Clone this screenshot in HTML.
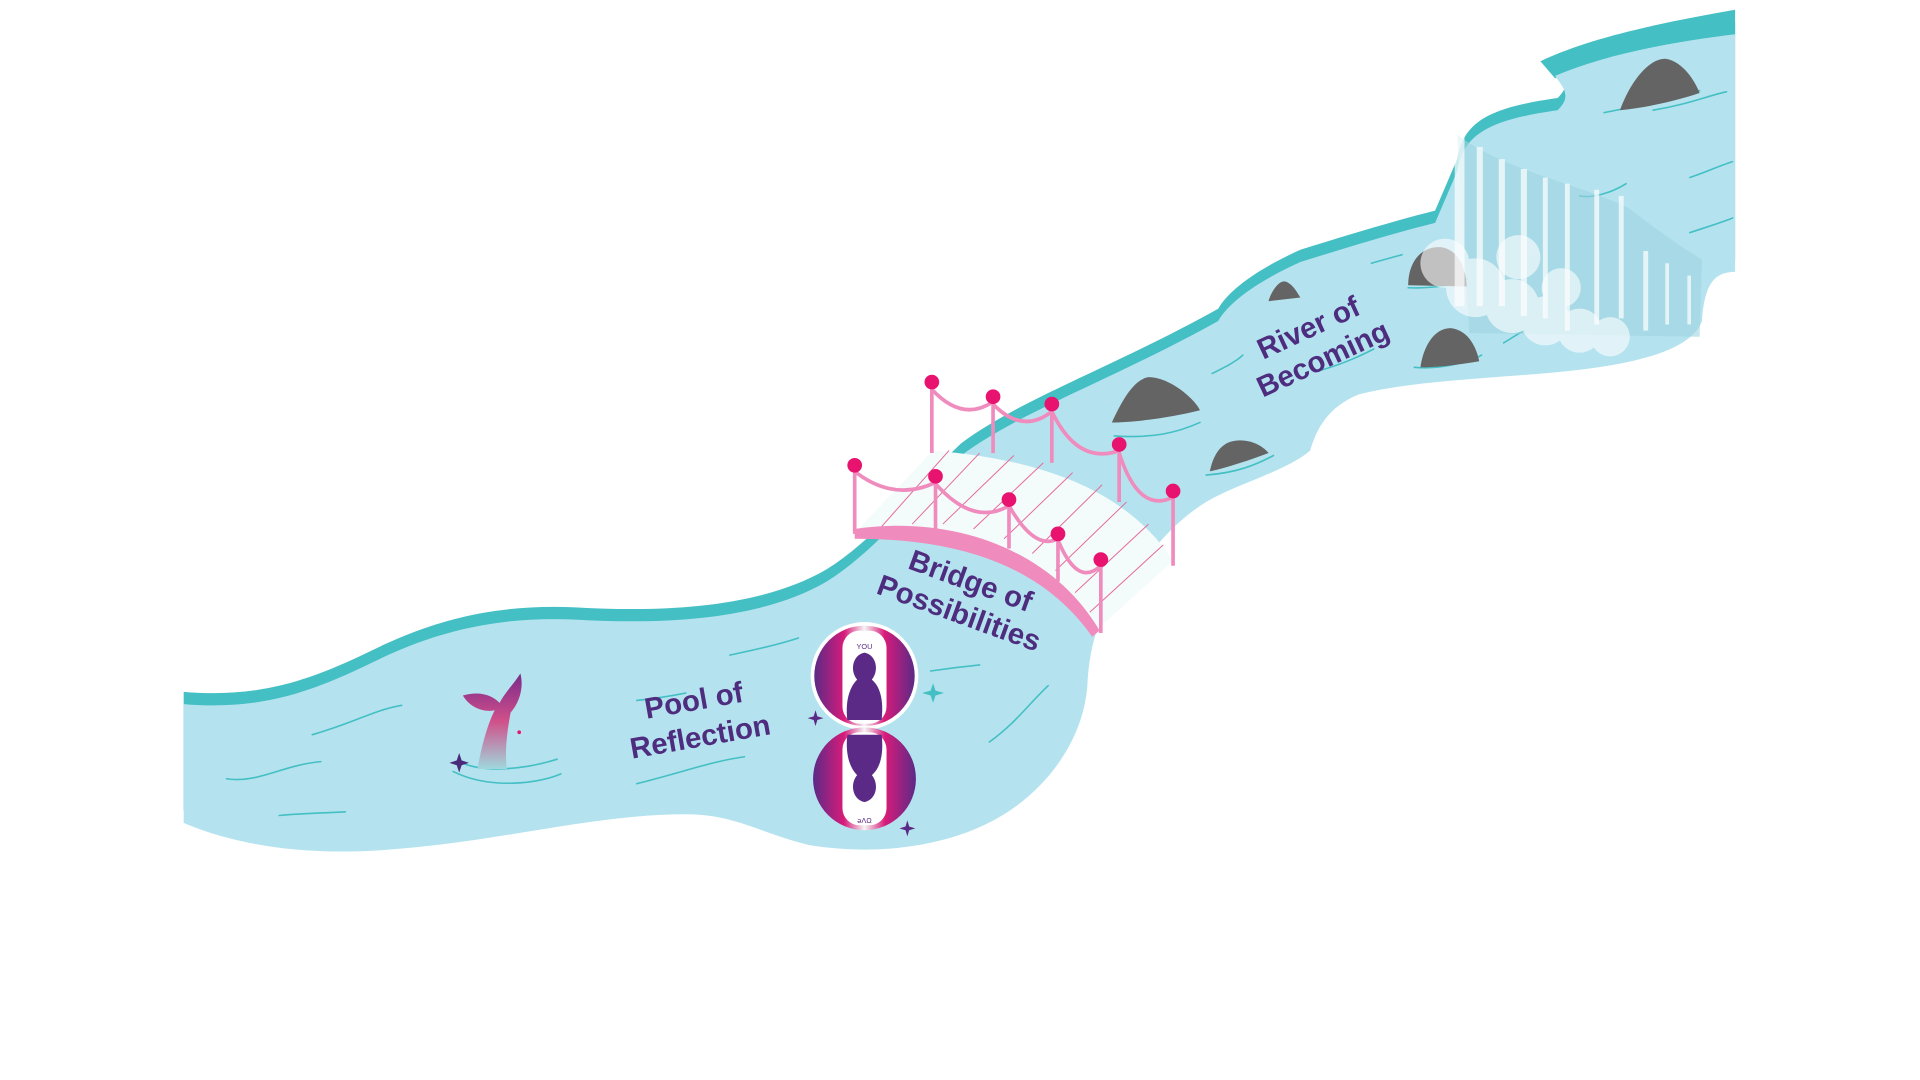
<!DOCTYPE html>
<html><head><meta charset="utf-8"><style>html,body{margin:0;padding:0;background:#fff}svg{display:block}</style></head><body>
<svg width="1920" height="1080" viewBox="0 0 1568 882" xmlns="http://www.w3.org/2000/svg">
<defs>
<linearGradient id="g" x1="0" x2="1"><stop offset="0" stop-color="#5b2a86"/><stop offset="0.3" stop-color="#d81b7a"/><stop offset="0.5" stop-color="#f5f5f5"/><stop offset="0.7" stop-color="#d81b7a"/><stop offset="1" stop-color="#5b2a86"/></linearGradient>
<linearGradient id="tail" x1="0" y1="0" x2="0" y2="1"><stop offset="0" stop-color="#7b2a8a"/><stop offset="0.5" stop-color="#d0508a"/><stop offset="1" stop-color="#9fd8dd"/></linearGradient>
<path id="river" d="M150,575 C210,580 250,567 300,543 C350,518 400,503 470,506 C540,510 620,507 675,475 C715,450 745,410 785,372 C835,335 905,312 995,262 C1005,244 1035,226 1062,214 C1100,202 1140,190 1172,182 L1190,140 C1195,110 1215,98 1272,90 C1285,78 1275,70 1270,62 C1310,45 1360,35 1417,28 L1417,222 C1400,222 1392,232 1390,262 C1380,290 1320,300 1260,305 C1200,310 1150,312 1110,322 C1085,332 1075,350 1070,368 C1050,385 1010,395 985,410 C960,425 940,450 925,470 C900,495 890,520 888,560 C885,600 860,640 820,665 C780,690 720,700 660,690 C620,680 600,665 560,665 C480,665 400,690 300,695 C230,698 180,685 150,672 Z"/>
</defs>
<use href="#river" fill="#44bfc4" transform="translate(0,-10)"/>
<path d="M1258,50 C1300,30 1360,18 1417,8 L1417,30 C1360,38 1310,48 1270,64 Z" fill="#44bfc4"/>
<use href="#river" fill="#b4e3ef"/>
<g fill="none" stroke="#44bfc4" stroke-width="1.3" stroke-linecap="round">
<path d="M185,636 C210,640 230,625 262,622"/><path d="M228,666 C250,664 265,664 282,663"/><path d="M255,600 C290,590 305,580 328,576"/><path d="M520,640 C560,630 580,622 608,618"/><path d="M520,572 C540,570 550,568 560,566"/><path d="M596,535 C620,530 640,525 652,521"/><path d="M808,606 C830,590 840,575 856,560"/><path d="M760,548 C780,545 790,544 800,543"/><path d="M990,305 C1000,300 1010,295 1015,290"/><path d="M1080,302 C1100,296 1112,290 1122,285"/><path d="M1120,215 C1130,212 1138,210 1145,208"/><path d="M1228,280 C1235,276 1240,272 1245,270"/><path d="M1380,145 C1395,140 1405,135 1415,132"/><path d="M1380,190 C1395,185 1405,182 1415,178"/><path d="M1290,160 C1300,162 1315,158 1328,150"/><path d="M1350,90 C1380,85 1395,78 1410,75"/><path d="M1310,92 C1340,86 1370,80 1388,74"/>
<path d="M375,622 C395,632 430,628 455,620"/><path d="M370,630 C400,645 440,640 458,632"/><path d="M910,356 C940,358 960,354 980,345"/><path d="M985,388 C1010,386 1025,380 1040,372"/><path d="M1150,235 C1170,236 1190,232 1198,228"/><path d="M1155,300 C1175,302 1200,296 1210,290"/>
</g>
<g fill="#646464">
<path d="M1323,90 C1330,70 1345,48 1360,48 C1375,50 1385,68 1388,76 C1370,82 1345,88 1323,90 Z"/>
<path d="M1150,233 C1150,215 1160,200 1178,202 C1192,205 1197,220 1198,234 Z"/>
<path d="M1160,300 C1162,285 1170,268 1185,268 C1200,270 1206,285 1208,295 C1190,298 1175,300 1160,300 Z"/>
<path d="M1036,246 C1038,238 1045,228 1050,230 C1056,232 1060,240 1062,243 Z"/>
<path d="M908,345 C915,330 925,310 938,308 C955,308 975,325 980,335 C960,340 930,345 908,345 Z"/>
<path d="M988,385 C990,375 995,362 1008,360 C1022,358 1032,365 1036,370 C1020,376 1002,382 988,385 Z"/>
</g>
<g>
<path d="M1190,110 C1230,140 1290,150 1330,170 C1350,185 1370,200 1390,212 L1388,275 L1200,272 Z" fill="#9fd4df" opacity="0.6"/>
<g fill="#fff" opacity="0.7">
<rect x="1188" y="100" width="8" height="150"/><rect x="1206" y="120" width="5" height="130"/><rect x="1224" y="130" width="5" height="120"/><rect x="1242" y="138" width="5" height="120"/><rect x="1260" y="145" width="4" height="115"/><rect x="1278" y="150" width="4" height="120"/><rect x="1302" y="155" width="4" height="110"/><rect x="1322" y="160" width="4" height="100"/><rect x="1342" y="205" width="4" height="65"/><rect x="1360" y="215" width="3" height="50"/><rect x="1378" y="225" width="3" height="40"/>
</g>
<g fill="#fff" opacity="0.6">
<circle cx="1180" cy="215" r="20"/><circle cx="1205" cy="235" r="24"/><circle cx="1235" cy="250" r="22"/><circle cx="1262" cy="262" r="20"/><circle cx="1290" cy="270" r="18"/><circle cx="1315" cy="275" r="16"/><circle cx="1240" cy="210" r="18"/><circle cx="1275" cy="235" r="16"/>
</g>
</g>
<path d="M698,435 C770,420 850,450 895,515 L958,458 C920,400 850,375 762,368 Z" fill="#f4fbfb"/>
<g stroke="#e56a9a" stroke-width="0.8" fill="none">
<path d="M720,430 L775,368"/><path d="M745,428 L800,370"/><path d="M770,428 L828,372"/><path d="M795,432 L852,378"/><path d="M820,440 L876,386"/><path d="M843,452 L900,396"/><path d="M862,466 L920,410"/><path d="M878,484 L938,428"/><path d="M890,500 L950,445"/>
</g>
<g stroke="#ef8cbd" stroke-width="3" fill="none">
<line x1="761" y1="312" x2="761" y2="370"/><line x1="811" y1="324" x2="811" y2="370"/><line x1="859" y1="330" x2="859" y2="378"/><line x1="914" y1="363" x2="914" y2="410"/><line x1="958" y1="401" x2="958" y2="462"/>
<path d="M761,318 Q786,345 811,328"/><path d="M811,330 Q835,355 859,336"/><path d="M859,336 Q880,380 914,368"/><path d="M914,370 Q930,420 958,406"/>
</g>
<path d="M698,432 C780,420 860,450 898,515 L892,520 C850,460 780,440 698,440 Z" fill="#ef8cbd"/>
<g stroke="#ef8cbd" stroke-width="3" fill="none">
<line x1="698" y1="380" x2="698" y2="436"/><line x1="764" y1="389" x2="764" y2="432"/><line x1="824" y1="408" x2="824" y2="448"/><line x1="864" y1="436" x2="864" y2="475"/><line x1="899" y1="457" x2="899" y2="517"/>
<path d="M698,385 Q730,410 764,394"/><path d="M764,395 Q795,430 824,413"/><path d="M824,413 Q845,450 864,440"/><path d="M864,441 Q880,480 899,462"/>
</g>
<g fill="#e8126f">
<circle cx="761" cy="312" r="6"/><circle cx="811" cy="324" r="6"/><circle cx="859" cy="330" r="6"/><circle cx="914" cy="363" r="6"/><circle cx="958" cy="401" r="6"/>
<circle cx="698" cy="380" r="6"/><circle cx="764" cy="389" r="6"/><circle cx="824" cy="408" r="6"/><circle cx="864" cy="436" r="6"/><circle cx="899" cy="457" r="6"/>
</g>
<path d="M390,628 C393,610 398,592 404,580 C395,582 384,578 378,568 C392,564 402,568 408,574 C412,566 420,558 425,550 C428,562 424,574 417,582 C414,598 412,615 414,628 Z" fill="url(#tail)"/>
<g fill="#4a2a7a"><path d="M375,615 l2,6 6,2 -6,2 -2,6 -2,-6 -6,-2 6,-2z"/></g>
<g fill="#e8126f"><circle cx="424" cy="598" r="1.5"/></g>
<g>
<circle cx="706" cy="552" r="44" fill="#fff"/><circle cx="706" cy="552" r="41" fill="url(#g)"/>
<rect x="688" y="515" width="36" height="76" rx="14" fill="#fff"/>
<path d="M692,588 C690,570 695,560 700,555 C694,548 696,535 706,533 C716,535 718,548 712,555 C718,560 722,570 720,588 Z" fill="#5b2a86"/>
<circle cx="706" cy="636" r="42" fill="url(#g)"/>
<rect x="688" y="598" width="36" height="76" rx="14" fill="#fff"/>
<path d="M692,600 C690,618 695,628 700,633 C694,640 696,653 706,655 C716,653 718,640 712,633 C718,628 722,618 720,600 Z" fill="#5b2a86"/>
<text x="706" y="530" font-family="Liberation Sans,sans-serif" font-size="6" fill="#5b2a86" text-anchor="middle">YOU</text>
<text x="706" y="672" font-family="Liberation Sans,sans-serif" font-size="6" fill="#5b2a86" text-anchor="middle">ǝΛΩ</text>
</g>
<g fill="#44bfc4"><path d="M762,558 l2,6 7,2 -7,2 -2,6 -2,-6 -7,-2 7,-2z"/></g>
<g fill="#5b2a86"><path d="M666,580 l1.5,5 5,1.5 -5,1.5 -1.5,5 -1.5,-5 -5,-1.5 5,-1.5z"/><path d="M741,670 l1.5,5 5,1.5 -5,1.5 -1.5,5 -1.5,-5 -5,-1.5 5,-1.5z"/></g>
<g font-family="Liberation Sans,sans-serif" font-weight="bold" fill="#4e2d7f" font-size="24">
<text transform="translate(568,580) rotate(-10)" text-anchor="middle"><tspan x="0" y="0">Pool of</tspan><tspan x="0" y="30">Reflection</tspan></text>
<text transform="translate(790,482) rotate(20)" text-anchor="middle"><tspan x="0" y="0">Bridge of</tspan><tspan x="0" y="28">Possibilities</tspan></text>
<text transform="translate(1072,275) rotate(-25)" text-anchor="middle"><tspan x="0" y="0">River of</tspan><tspan x="0" y="28">Becoming</tspan></text>
</g>
</svg>
</body></html>
